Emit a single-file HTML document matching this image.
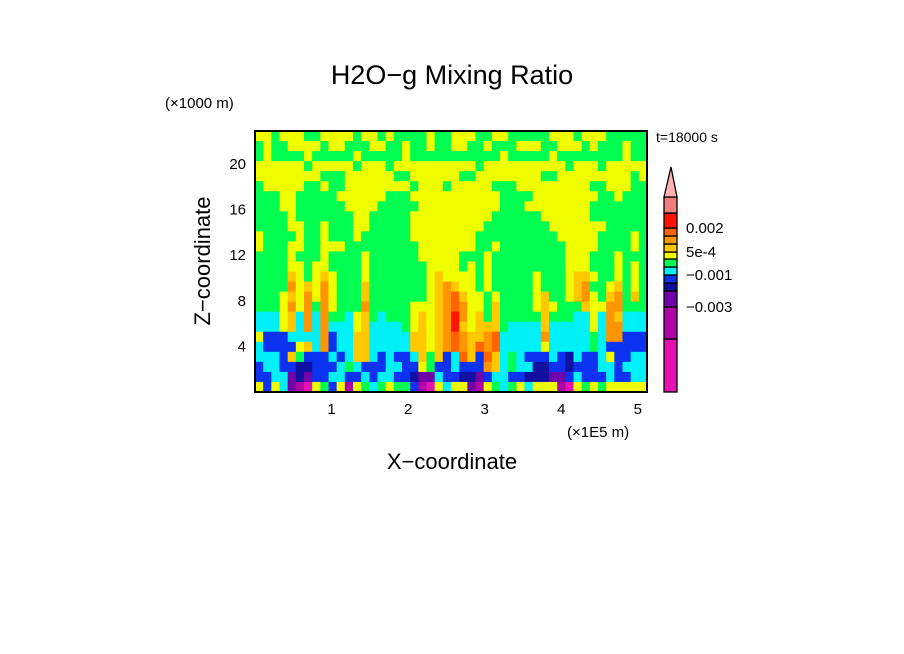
<!DOCTYPE html>
<html><head><meta charset="utf-8"><style>
html,body{margin:0;padding:0;background:#fff;}
svg{display:block;font-family:"Liberation Sans",sans-serif;}
</style></head><body>
<svg id="c" width="904" height="654" viewBox="0 0 904 654">
<text x="452" y="84" font-size="27" text-anchor="middle">H2O−g Mixing Ratio</text>
<text x="165" y="108" font-size="15">(×1000 m)</text>
<text x="656" y="142" font-size="14">t=18000 s</text>
<text x="0" y="0" font-size="22" text-anchor="middle" transform="translate(210,261) rotate(-90)">Z−coordinate</text>
<text x="452" y="469" font-size="22" text-anchor="middle">X−coordinate</text>
<text x="567" y="437" font-size="15">(×1E5 m)</text>
<g id="cells"></g>
<g id="axes"></g>
<g id="cbar"></g>
</svg>
<script>
const rows = [
"77677766 77776776 76666766 77766776 66667776 77766666",
"67667777 67766677 66766766 77667666 77766777 67666766",
"67666676 66667666 66766666 66666676 66667666 66666766",
"77777767 77776777 67777777 77767777 77777767 77677777",
"77777777 66677777 76677777 76677777 77766777 77777767",
"67777766 76677777 77767776 77777666 77777777 76677766",
"66677666 66777777 66677777 77777766 66777777 77667666",
"66677666 66677776 66667777 77777766 67777777 76666666",
"66667666 66667766 66677777 77777666 66677777 76666666",
"66667766 76667766 66677777 77776666 66667777 77766666",
"76666766 76667666 66677777 77766666 66666777 77666676",
"76667766 77766666 66667777 77766766 66666677 77666676",
"66667666 76666766 66667777 76667666 66666677 76667666",
"66667767 76666766 66666777 76767666 66666677 76667676",
"66668767 87666766 66666787 77767666 66766678 87667676",
"66669787 97666866 66666789 87767666 66766678 96678676",
"66678797 97666866 66666789 a8776766 66786678 97689686",
"66679796 97666966 66677789 a9776866 66787666 87799666",
"55578595 96657865 66678789 b9786866 66686665 57598555",
"55578595 95557855 55678789 b8788865 55585555 57599555",
"74445555 94558855 55588789 a9889a55 55595555 56599444",
"54444785 94558855 55588789 a98a9a55 55575555 56544444",
"55548644 45458854 54458684 5a84a856 54445435 44574455",
"45544334 44565444 55447644 54449856 55334434 44554555",
"44552324 45544545 54432254 43324554 43332245 44454455",
"74752107 64717656 76641075 77217656 75777107 67677777"
];
const levelColors = ["#e511b0","#b000a8","#7000a8","#1010a0","#0a32f0","#00f0f8","#00ff50","#f0ff00","#ffc800","#ff9600","#ff6400","#ff1400","#f08080"];
const xTicks = [1,2,3,4,5];
const yTicks = [4,8,12,16,20];
const xMax = 5.12, yMax = 22.9;
const cbLabels = ["0.002","5e-4","−0.001","−0.003"];
const cbLabelLevel = [10,7,4,1];

const NS="http://www.w3.org/2000/svg";
const L=255,R=647,T=131,B=392;
const sx=v=>L+(R-L)*v/xMax;
const sy=v=>B-(B-T)*v/yMax;
function mk(tag,attrs,parent){const e=document.createElementNS(NS,tag);for(const k in attrs)e.setAttribute(k,attrs[k]);parent.appendChild(e);return e;}
const grid=rows.map(r=>r.replace(/ /g,""));
const nr=grid.length, nc=grid[0].length;
const cells=document.getElementById("cells");
for(let i=0;i<nr;i++){for(let j=0;j<nc;j++){
  const lv=parseInt(grid[i][j],16);
  const x0=sx(j*xMax/nc), x1=sx((j+1)*xMax/nc);
  const y0=sy(yMax-i*yMax/nr), y1=sy(yMax-(i+1)*yMax/nr);
  const r=mk("rect",{x:x0,y:y0,width:x1-x0+0.6,height:y1-y0+0.6,fill:levelColors[lv]},cells);
  
  
}}
const ax=document.getElementById("axes");
const fr=mk("rect",{x:L,y:T,width:R-L,height:B-T,fill:"none",stroke:"#000","stroke-width":2},ax);


xTicks.forEach(v=>{
  const t=mk("text",{x:sx(v),y:414,"font-size":15,"text-anchor":"middle"},ax);t.textContent=v;
  
  
});
yTicks.forEach(v=>{
  const t=mk("text",{x:246,y:sy(v)+5,"font-size":15,"text-anchor":"end"},ax);t.textContent=v;
  
  
});
const cb=document.getElementById("cbar");
const segs=[[339,392],[307,339],[291,307],[283,291],[275,283],[267,275],[259,267],[252,259],[244,252],[236,244],[228,236],[213,228],[197,213]];
segs.forEach((s,k)=>{
  const r=mk("rect",{x:664,y:s[0],width:13,height:s[1]-s[0],fill:levelColors[k],stroke:"#000","stroke-width":1.3},cb);
  
  
});
const tri=mk("polygon",{points:"664,197 677,197 671,167",fill:"#ffb0b0",stroke:"#000","stroke-width":1.3},cb);


cbLabels.forEach((s,k)=>{
  const yy=segs[cbLabelLevel[k]][0];
  const t=mk("text",{x:686,y:yy+5,"font-size":15},cb);t.textContent=s;
  
  
});
</script>
</body></html>
